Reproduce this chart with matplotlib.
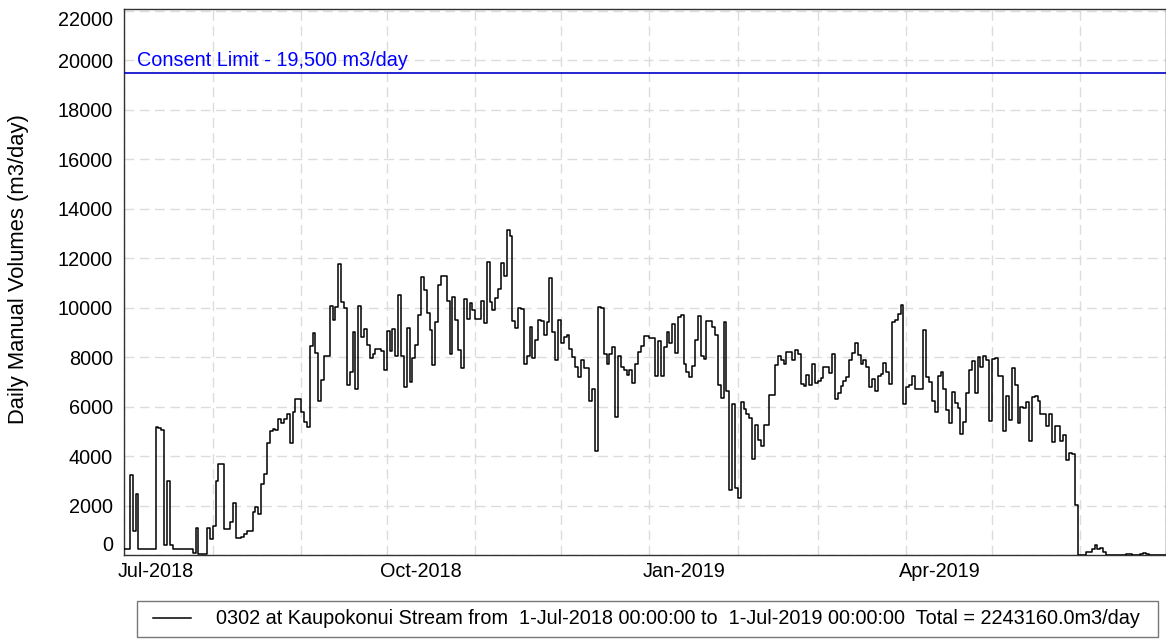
import matplotlib
matplotlib.use("Agg")
import matplotlib.pyplot as plt
import matplotlib.dates as mdates
from matplotlib.legend_handler import HandlerLine2D
import numpy as np
import pandas as pd

plt.rcParams['font.family'] = ['Liberation Sans', 'DejaVu Sans']

start_date = "2018-07-01"
end_date = "2019-07-01"

daily_volumes = [
    270, 270, 3250, 1000, 2490, 240, 240, 240, 240, 270,
    270, 5180, 5150, 5050, 400, 3020, 400, 250, 250, 250,
    250, 250, 250, 250, 100, 1090, 40, 40, 40, 1120,
    670, 1180, 3000, 3700, 3700, 1050, 1050, 1360, 2110, 680,
    680, 750, 870, 980, 980, 1760, 1960, 1650, 2900, 3280,
    4550, 5020, 5100, 5050, 5500, 5330, 5500, 5700, 4550, 5800,
    6300, 6300, 5800, 5400, 5200, 8460, 8980, 8180, 6250, 7090,
    8070, 8070, 10060, 9520, 10050, 11750, 10220, 9990, 6860, 7400,
    9010, 6730, 10070, 8810, 9140, 8510, 7960, 8140, 8340, 8340,
    8270, 7490, 9080, 8270, 9140, 8050, 10530, 8070, 6790, 9170,
    7010, 7970, 8490, 9710, 11230, 10720, 9800, 9100, 7700, 9440,
    10900, 11270, 11270, 10290, 8140, 10440, 9510, 8300, 7560, 10340,
    9540, 10210, 9890, 9550, 9540, 10280, 9370, 11850, 10220, 9890,
    10380, 10760, 11820, 11300, 13140, 12880, 9480, 9170, 9980, 9950,
    7730, 8070, 9210, 7960, 8700, 9510, 9460, 8920, 9440, 11200,
    9010, 7870, 9520, 8580, 8810, 8920, 8340, 8000, 7600, 7200,
    7900, 7570, 7560, 6230, 6730, 4210, 10020, 10000, 8140, 7730,
    8140, 8410, 5580, 8070, 7600, 7500, 7300, 7500, 6970, 7710,
    8200, 8470, 8860, 8860, 8780, 8780, 7240, 8650, 7260, 8410,
    9010, 8570, 9350, 8180, 9620, 9710, 7730, 7400, 7220, 7640,
    8680, 9660, 8070, 7940, 9450, 9480, 9210, 8900, 6860, 6350,
    9420, 6630, 2650, 6120, 2720, 2310, 6190, 5920, 5720, 5550,
    3900, 5250, 4640, 4410, 5270, 5270, 6460, 6460, 7670, 8040,
    7870, 7730, 8200, 8200, 7870, 8300, 8140, 6930, 6830, 7290,
    6890, 7730, 6970, 7060, 7150, 7600, 7600, 7360, 8140, 6320,
    6550, 6830, 7030, 7220, 7870, 8180, 8570, 8100, 7710, 7900,
    7600, 6790, 7130, 6620, 7260, 7330, 7760, 7400, 6930, 9420,
    9510, 9750, 10130, 6120, 6790, 6890, 7260, 6700, 6730, 6730,
    9110, 7220, 7020, 6250, 5800, 7240, 7400, 6730, 5850, 5350,
    6590, 6150, 5960, 4910, 5380, 6560, 7500, 7840, 6560, 8000,
    7600, 8040, 7870, 5410, 7940, 7980, 7260, 7260, 5020, 6420,
    5450, 7570, 6890, 5350, 5990, 5940, 6210, 4600, 6390, 6420,
    6250, 5720, 5720, 5220, 5690, 4570, 5220, 5220, 4600, 4870,
    3870, 4140, 4100, 2030, 0, 0, 0, 130, 130, 270,
    430, 270, 300, 130, 30, 0, 0, 0, 0, 0,
    0, 40, 40, 0, 0, 0, 70, 90, 60, 0,
    0, 0, 0, 0, 0,
]

consent_limit = 19500
consent_label = "Consent Limit - 19,500 m3/day"
y_label = "Daily Manual Volumes (m3/day)"
legend_label = ("0302 at Kaupokonui Stream from  1-Jul-2018 00:00:00 to  "
                "1-Jul-2019 00:00:00  Total = 2243160.0m3/day")
y_ticks = list(range(0, 22001, 2000))
x_tick_dates = ["2018-07-01", "2018-10-01", "2019-01-01", "2019-04-01"]
x_tick_labels = ["Jul-2018", "Oct-2018", "Jan-2019", "Apr-2019"]

FS = 14.3
W, H = 1166, 639
fig = plt.figure(figsize=(W / 100, H / 100), dpi=100)
ax = fig.add_axes([124.2 / W, (H - 555.3) / H, (W - 124.2) / W, (555.3 - 9) / H])

dates = pd.date_range(start_date, periods=len(daily_volumes) + 1, freq="D")
vals = list(daily_volumes) + [daily_volumes[-1]]
line, = ax.step(dates, vals, where="post", color="black", lw=1.1, label=legend_label, zorder=3)

ax.axhline(consent_limit, color="#0000c8", lw=1.2, zorder=3)
ax.annotate(consent_label, xy=(0, consent_limit), xycoords=("axes fraction", "data"),
            xytext=(13, 3), textcoords="offset pixels", color="#0000ff",
            fontsize=FS, va="bottom", ha="left")

ax.set_xlim(pd.Timestamp(start_date), pd.Timestamp(end_date))
ax.set_ylim(0, 22070)

ax.set_yticks(y_ticks)
ax.set_yticklabels([str(t) for t in y_ticks], fontsize=FS)
ylabs = ax.get_yticklabels()
ylabs[0].set_va("bottom")
ylabs[-1].set_va("top")

# x labels: left-aligned just before the month gridline
ax.set_xticks([pd.Timestamp(d) for d in x_tick_dates])
ax.set_xticklabels([])
for d, lab in zip(x_tick_dates, x_tick_labels):
    ax.annotate(lab, xy=(pd.Timestamp(d), 0), xycoords=("data", "axes fraction"),
                xytext=(-7, -7), textcoords="offset pixels", ha="left", va="top",
                fontsize=FS, annotation_clip=False)
ax.xaxis.set_minor_locator(mdates.MonthLocator())

ax.tick_params(axis="both", which="both", length=0)
ax.tick_params(axis="y", pad=8)

grid_kw = dict(color="#dcdcdc", lw=1.0, linestyle=(0, (7, 4)))
ax.grid(True, axis="y", which="major", **grid_kw)
ax.grid(True, axis="x", which="both", **grid_kw)
ax.set_axisbelow(True)

for s in ax.spines.values():
    s.set_color("#333333")
    s.set_linewidth(1.0)

ax.set_ylabel(y_label, fontsize=15.8)
ax.yaxis.set_label_coords(-0.091, 0.524)

leg = fig.legend(handles=[line], labels=[legend_label],
                 loc="center", bbox_to_anchor=(137 / W, 1 / H, 1021 / W, 38 / H),
                 mode="expand", fontsize=FS, frameon=True, fancybox=False,
                 handlelength=2.25, handletextpad=1.3, borderpad=0.45, borderaxespad=0,
                 handler_map={line: HandlerLine2D(xpad=0.35)})
leg.get_frame().set_edgecolor("#555555")
leg.get_frame().set_linewidth(1.0)

fig.savefig("out.png", dpi=100)
